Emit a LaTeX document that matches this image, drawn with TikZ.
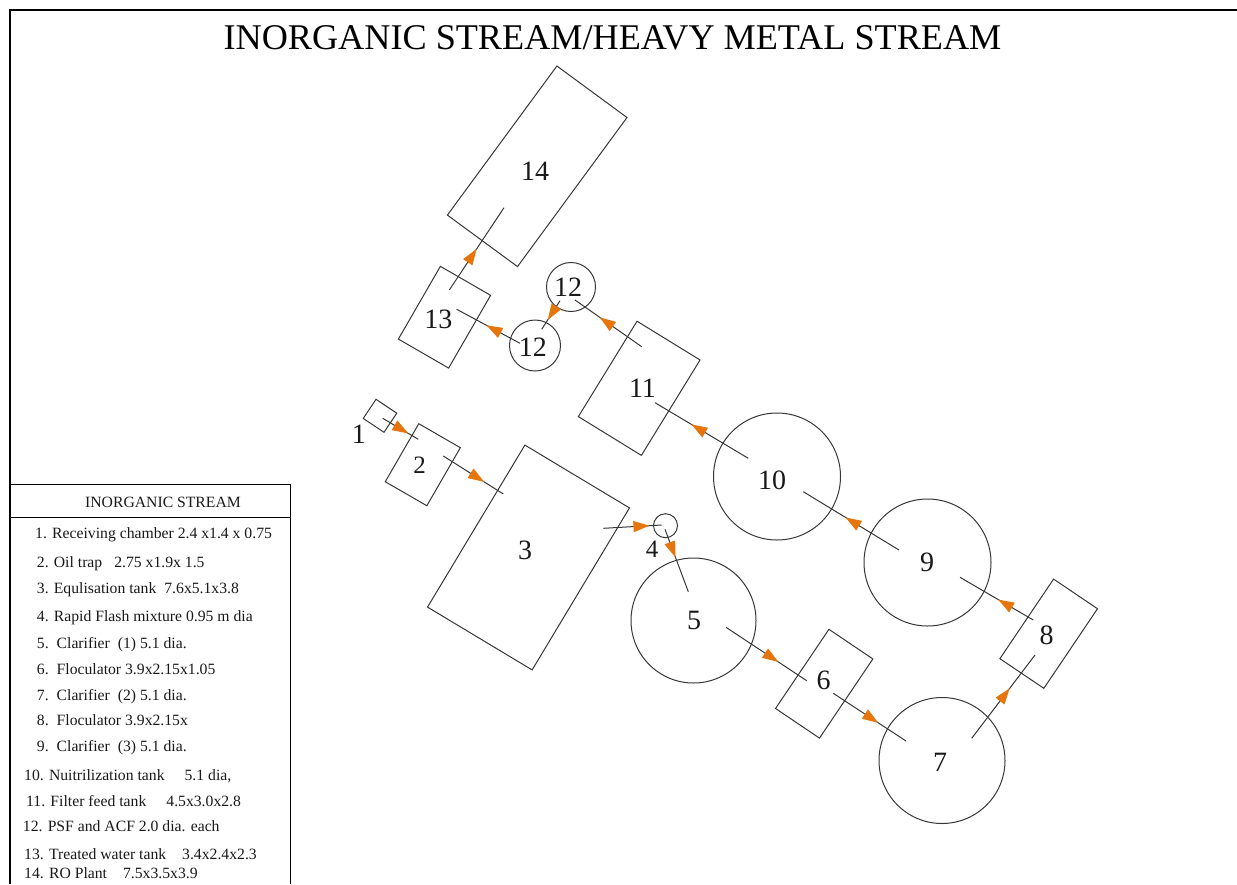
\documentclass[tikz,border=0pt]{standalone}
\usepackage{fontspec}
\setmainfont{Liberation Serif}
\usetikzlibrary{arrows.meta,decorations.markings}
\definecolor{linec}{RGB}{55,55,55}
\definecolor{arrc}{RGB}{230,118,12}
\tikzset{
  unit/.style={draw=linec, line width=1pt, inner sep=0pt, outer sep=0pt},
  tank/.style={unit, rectangle},
  vessel/.style={unit, circle},
  num/.style={font=\fontsize{28}{30}\selectfont, inner sep=0pt, text=black!90},
  numsmall/.style={font=\fontsize{25}{27}\selectfont, inner sep=0pt, text=black!90},
  legtext/.style={font=\fontsize{15.7}{17}\selectfont, inner sep=0pt, anchor=base west, text=black!90},
  flow/.style={draw=linec, line width=1pt, postaction={decorate},
    decoration={markings, mark=at position #1 with {\arrow{Triangle[length=16pt,width=11pt,color=arrc,fill=arrc]}}}},
}
\begin{document}
\begin{tikzpicture}[x=1pt,y=-1pt]
\useasboundingbox (0,0) rectangle (1237,884);
% frame
\draw[line width=1.3pt] (10,884) -- (10,10) -- (1237,10);
\node[anchor=base, inner sep=0pt, font=\fontsize{36.2}{40}\selectfont] (title) at (612.5,49.5) {INORGANIC STREAM/HEAVY METAL STREAM};
% legend
\draw[line width=0.9pt] (10,484) -- (290,484) -- (290,884);
\draw[line width=0.9pt] (10,517) -- (290,517);
\node[legtext, anchor=base] (lh) at (163,507.3) {INORGANIC STREAM};
\node[legtext] (l1) at (35,538.3) {1. Receiving chamber 2.4 x1.4 x 0.75};
\node[legtext] (l2) at (36.7,567.3) {2. Oil trap\hspace{12pt}2.75 x1.9x 1.5};
\node[legtext] (l3) at (36.7,593.3) {3. Equlisation tank\hspace{8pt}7.6x5.1x3.8};
\node[legtext] (l4) at (36.7,621) {4. Rapid Flash mixture 0.95 m dia};
\node[legtext] (l5) at (36.7,648.3) {5.\hspace{8pt}Clarifier\hspace{8pt}(1) 5.1 dia.};
\node[legtext] (l6) at (36.7,674.3) {6.\hspace{8pt}Floculator 3.9x2.15x1.05};
\node[legtext] (l7) at (36.7,700) {7.\hspace{8pt}Clarifier\hspace{8pt}(2) 5.1 dia.};
\node[legtext] (l8) at (36.7,725.7) {8.\hspace{8pt}Floculator 3.9x2.15x};
\node[legtext] (l9) at (36.7,751.7) {9.\hspace{8pt}Clarifier\hspace{8pt}(3) 5.1 dia.};
\node[legtext] (l10) at (24,780) {10. Nuitrilization tank\hspace{20pt}5.1 dia,};
\node[legtext] (l11) at (26,806.7) {11. Filter feed tank\hspace{20pt}4.5x3.0x2.8};
\node[legtext] (l12) at (22.7,831.7) {12. PSF and ACF 2.0 dia. each};
\node[legtext] (l13) at (24,859) {13. Treated water tank\hspace{16pt}3.4x2.4x2.3};
\node[legtext] (l14) at (24,878.3) {14. RO Plant\hspace{16pt}7.5x3.5x3.9};
% units
\node[tank, minimum width=25pt, minimum height=23pt, rotate=-33.7] (n1) at (380,415.8) {};
\node[tank, minimum width=48pt, minimum height=67pt, rotate=-30] (n2) at (422.8,464.7) {};
\node[tank, minimum width=122pt, minimum height=189pt, rotate=-31] (n3) at (528.5,557.5) {};
\node[vessel, minimum size=24pt] (n4) at (665.5,525.7) {};
\node[vessel, minimum size=125pt] (n5) at (693.5,620.5) {};
\node[tank, minimum width=53pt, minimum height=95.5pt, rotate=-34] (n6) at (824.2,683.7) {};
\node[vessel, minimum size=126pt] (n7) at (942,760.5) {};
\node[tank, minimum width=53pt, minimum height=96pt, rotate=-34] (n8) at (1048.7,633.7) {};
\node[vessel, minimum size=127pt] (n9) at (927.5,562.5) {};
\node[vessel, minimum size=127pt] (n10) at (777,476.5) {};
\node[tank, minimum width=74pt, minimum height=112pt, rotate=-31.6] (n11) at (639.2,388.3) {};
\node[vessel, minimum size=49pt] (n12a) at (571,287) {};
\node[vessel, minimum size=51pt] (n12b) at (535,345.5) {};
\node[tank, minimum width=58pt, minimum height=84pt, rotate=-30] (n13) at (444.5,317.2) {};
\node[tank, minimum width=87pt, minimum height=185pt, rotate=-36.3] (n14) at (537.2,166.3) {};
% labels
\node[num] (t1) at (358.8,434.5) {1};
\node[numsmall] (t2) at (419.5,465) {2};
\node[num] (t3) at (525,550) {3};
\node[numsmall] (t4) at (652.2,549) {4};
\node[num] (t5) at (694.2,620) {5};
\node[num] (t6) at (823.7,680.8) {6};
\node[num] (t7) at (940,762) {7};
\node[num] (t8) at (1046.7,635) {8};
\node[num] (t9) at (927,562) {9};
\node[num] (t10) at (772,480) {10};
\node[num] (t11) at (642.5,388.3) {11};
\node[num] (t12a) at (568,287.3) {12};
\node[num] (t12b) at (532.8,347) {12};
\node[num] (t13) at (438.3,319.2) {13};
\node[num] (t14) at (535,171.3) {14};
% connector ends
\coordinate (c1a) at (382.7,418.3);  \coordinate (c2i) at (418.3,439.3);
\coordinate (c2a) at (443.3,456);    \coordinate (c3i) at (503.3,494);
\coordinate (c3a) at (603.3,528.3);  \coordinate (c4i) at (661.7,525);
\coordinate (c4a) at (665,529.3);    \coordinate (c5i) at (688.3,591.7);
\coordinate (c5a) at (726,627.3);    \coordinate (c6i) at (806.7,680.7);
\coordinate (c6a) at (833.3,693.3);  \coordinate (c7i) at (906,741);
\coordinate (c7a) at (971.7,738.3);  \coordinate (c8i) at (1035,655);
\coordinate (c8a) at (1033.3,620);   \coordinate (c9i) at (960,577.3);
\coordinate (c9a) at (899,550);      \coordinate (c10i) at (803.3,491.7);
\coordinate (c10a) at (748.3,458.3); \coordinate (c11i) at (655,402.7);
\coordinate (c11a) at (641.7,346.7); \coordinate (c12ai) at (575,300);
\coordinate (c12aa) at (560,300.7);  \coordinate (c12bi) at (541.7,329.3);
\coordinate (c12ba) at (520,343.3);  \coordinate (c13i) at (456.7,309.3);
\coordinate (c13a) at (449.3,290);   \coordinate (c14i) at (504,207.7);
% connectors
\draw[flow=0.72] (c1a) -- (c2i);
\draw[flow=0.68] (c2a) -- (c3i);
\draw[flow=0.79] (c3a) -- (c4i);
\draw[flow=0.45] (c4a) -- (c5i);
\draw[flow=0.65] (c5a) -- (c6i);
\draw[flow=0.62] (c6a) -- (c7i);
\draw[flow=0.60] (c7a) -- (c8i);
\draw[flow=0.48] (c8a) -- (c9i);
\draw[flow=0.56] (c9a) -- (c10i);
\draw[flow=0.61] (c10a) -- (c11i);
\draw[flow=0.63] (c11a) -- (c12ai);
\draw[flow=0.67] (c12aa) -- (c12bi);
\draw[flow=0.53] (c12ba) -- (c13i);
\draw[flow=0.50] (c13a) -- (c14i);
\end{tikzpicture}
\end{document}
